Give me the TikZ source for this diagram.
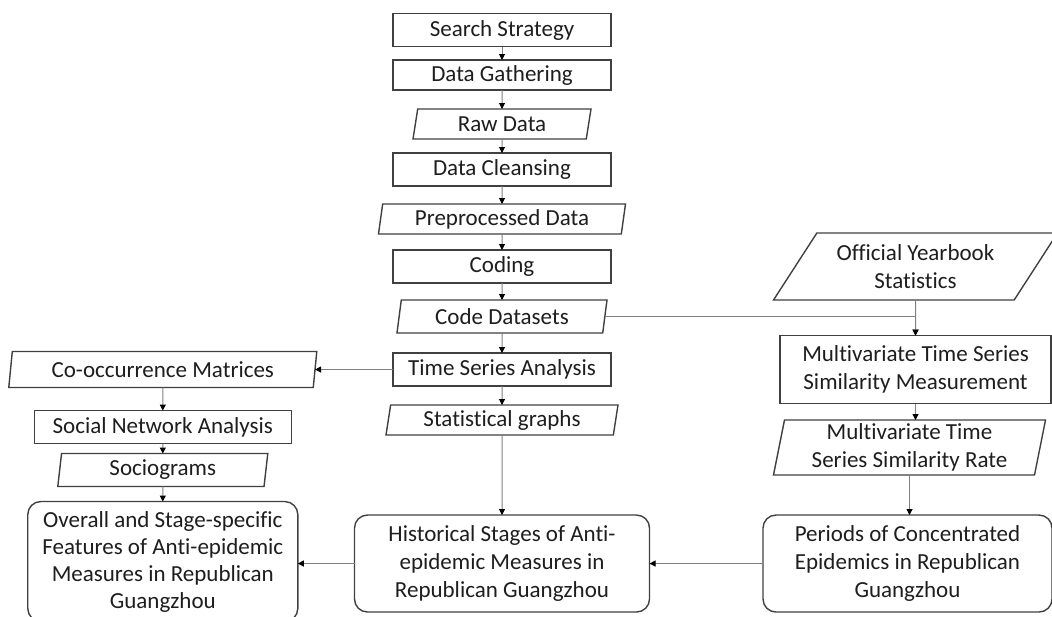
\documentclass[tikz,border=0pt]{standalone}
\usepackage{fontspec}
\setmainfont{Carlito}[Ligatures=NoCommon]
\usetikzlibrary{shapes.geometric, arrows.meta, positioning}
\definecolor{boxGris}{RGB}{64,64,64}
\definecolor{lineaGris}{RGB}{128,128,128}
\definecolor{textoGris}{RGB}{30,30,30}
\tikzset{
  fc/proc/.style={rectangle, draw=boxGris, fill=white,
    minimum width=109pt, minimum height=16.5pt,
    font=\fontsize{11.5}{14}\selectfont\color{textoGris}, align=center,
    line width=0.7pt, inner sep=1pt, outer sep=0pt},
  fc/data/.style={trapezium, trapezium left angle=78, trapezium right angle=102,
    trapezium stretches body, draw=boxGris, fill=white,
    minimum height=15pt,
    font=\fontsize{11.5}{14}\selectfont\color{textoGris}, align=center,
    line width=0.7pt, inner sep=1pt, outer sep=0pt},
  fc/res/.style={rectangle, rounded corners=6.5pt, draw=boxGris, fill=white,
    minimum height=48.5pt,
    font=\fontsize{11.5}{14}\selectfont\color{textoGris}, align=center,
    line width=0.7pt, inner sep=1pt, outer sep=0pt},
  fc/arr/.style={-{Triangle[length=3pt,width=3pt,color=black]},
    line width=0.5pt, draw=lineaGris}
}

\begin{document}
\begin{tikzpicture}[x=0.5pt, y=-0.5pt]
  \useasboundingbox (0,0) rectangle (1052,616);

  % centre column
  \node[fc/proc] (s) at (502,30) {Search Strategy};
  \node[fc/proc, minimum height=15pt, below=6.75pt of s] (dg) {Data Gathering};
  \node[fc/data, minimum width=89pt, trapezium left angle=76,
        trapezium right angle=104, below=9.5pt of dg] (raw) {Raw Data};
  \node[fc/proc, below=7pt of raw] (clean) {Data Cleansing};
  \node[fc/data, minimum width=123.5pt, trapezium left angle=80,
        trapezium right angle=100, below=9pt of clean] (prep) {Preprocessed Data};
  \node[fc/proc, below=8pt of prep] (cod) {Coding};
  \node[fc/data, minimum width=105pt, minimum height=16.5pt,
        below=8.5pt of cod] (codeds) {Code Datasets};
  \node[fc/proc, below=10pt of codeds] (tsa) {Time Series Analysis};
  \node[fc/data, minimum width=116pt, trapezium left angle=79,
        trapezium right angle=101, below=9.5pt of tsa] (stat) {Statistical graphs};
  \node[fc/res, minimum width=147.5pt, below=40pt of stat] (hist)
        {Historical Stages of Anti-\\epidemic Measures in\\Republican Guangzhou};

  % left column
  \node[fc/data, minimum width=154pt, minimum height=18pt, trapezium left angle=80,
        trapezium right angle=100, left=39pt of tsa] (cooc) {Co-occurrence Matrices};
  \node[fc/proc, minimum width=128.5pt, below=11.5pt of cooc] (sna)
        {Social Network Analysis};
  \node[fc/data, minimum width=105pt, minimum height=16.5pt, trapezium left angle=81,
        trapezium right angle=99, below=5pt of sna] (socio) {Sociograms};
  \node[fc/res, minimum width=135pt, minimum height=60pt,
        font=\fontsize{11.5}{13.5}\selectfont\color{textoGris}, below=7.5pt of socio]
        (overall) {Overall and Stage-specific\\Features of Anti-epidemic\\
        Measures in Republican\\Guangzhou};

  % right column
  \node[fc/proc, minimum width=135.5pt, minimum height=34pt, right=84.5pt of tsa]
        (mts) {Multivariate Time Series\\Similarity Measurement};
  \node[fc/data, minimum width=142pt, minimum height=33.5pt, trapezium left angle=48,
        trapezium right angle=132, above=17.75pt of mts] (year)
        {Official Yearbook\\Statistics};
  \node[fc/data, minimum width=136pt, minimum height=27.5pt, below=8.25pt of mts,
        xshift=-3pt] (rate) {Multivariate Time\\Series Similarity Rate};
  \node[fc/res, minimum width=144.5pt, below=20pt of rate, xshift=-1pt] (period)
        {Periods of Concentrated\\Epidemics in Republican\\Guangzhou};

  \draw[fc/arr] (s) -- (dg);
  \draw[fc/arr] (dg) -- (raw);
  \draw[fc/arr] (raw) -- (clean);
  \draw[fc/arr] (clean) -- (prep);
  \draw[fc/arr] (prep) -- (cod);
  \draw[fc/arr] (cod) -- (codeds);
  \draw[fc/arr] (codeds) -- (tsa);
  \draw[fc/arr] (tsa) -- (stat);
  \draw[fc/arr] (stat) -- (hist);
  \draw[fc/arr] (tsa.west) -- (cooc.east);
  \draw[fc/arr] (cooc) -- (sna);
  \draw[fc/arr] (sna) -- (socio);
  \draw[fc/arr] (socio) -- (overall);
  \draw[fc/arr] (hist.west) -- (hist.west -| overall.east);
  \draw[fc/arr] (year) -- (mts);
  \draw[fc/arr] (codeds.east) -| (mts.north);
  \draw[fc/arr] (mts.south) -- (mts.south |- rate.north);
  \draw[fc/arr] (rate.south) -- (rate.south |- period.north);
  \draw[fc/arr] (period.west) -- (period.west -| hist.east);
\end{tikzpicture}
\end{document}
